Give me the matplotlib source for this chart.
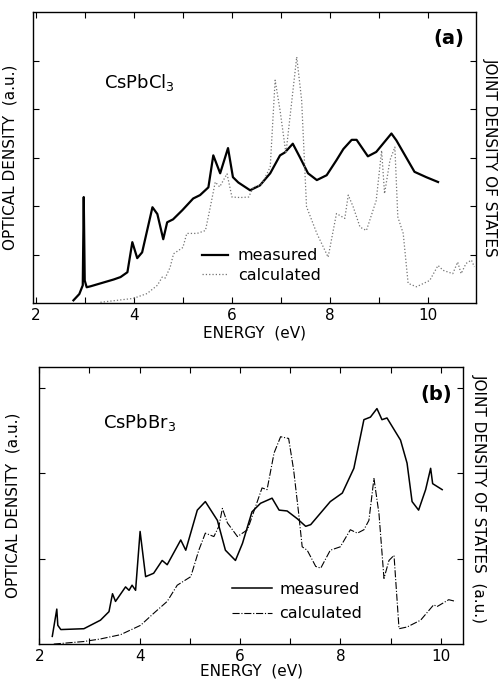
"""Optical density vs joint density of states for CsPbCl3 and CsPbBr3."""
import matplotlib.pyplot as plt
from matplotlib.ticker import MultipleLocator, FuncFormatter

plt.switch_backend("agg")

# panel (a): CsPbCl3
cl_meas_E = [2.77, 2.89, 2.96, 2.98, 3.0, 3.04, 3.12, 3.59, 3.73, 3.87, 3.97, 4.07,
             4.17, 4.38, 4.48, 4.6, 4.68, 4.8, 4.99, 5.21, 5.35, 5.52, 5.62, 5.76,
             5.92, 6.02, 6.13, 6.37, 6.57, 6.78, 6.98, 7.08, 7.24, 7.39, 7.55, 7.73,
             7.93, 8.13, 8.27, 8.44, 8.54, 8.77, 8.94, 9.25, 9.35, 9.72, 9.96, 10.2]
cl_meas_OD = [0.06, 0.19, 0.37, 2.19, 0.47, 0.33, 0.35, 0.49, 0.54, 0.64, 1.26, 0.93,
              1.05, 1.98, 1.84, 1.32, 1.67, 1.73, 1.92, 2.16, 2.23, 2.39, 3.05, 2.68,
              3.2, 2.6, 2.49, 2.33, 2.43, 2.68, 3.05, 3.11, 3.29, 3.0, 2.68, 2.54,
              2.64, 2.95, 3.18, 3.37, 3.37, 3.03, 3.12, 3.5, 3.36, 2.71, 2.6, 2.5]
cl_calc_E = [3.32, 3.99, 4.27, 4.48, 4.58, 4.64, 4.74, 4.81, 5.0, 5.08, 5.29, 5.46,
             5.56, 5.66, 5.75, 5.9, 6.0, 6.17, 6.34, 6.44, 6.57, 6.63, 6.78, 6.88,
             6.98, 7.1, 7.32, 7.42, 7.52, 7.73, 7.96, 8.13, 8.3, 8.37, 8.47, 8.61,
             8.74, 8.94, 9.05, 9.11, 9.22, 9.32, 9.38, 9.49, 9.59, 9.76, 10.03, 10.2,
             10.3, 10.5, 10.6, 10.67, 10.77, 10.88, 10.94]
cl_calc_JDOS = [0.02, 0.1, 0.2, 0.37, 0.54, 0.52, 0.74, 1.02, 1.15, 1.44, 1.44, 1.5,
                1.99, 2.5, 2.4, 2.67, 2.19, 2.18, 2.19, 2.4, 2.43, 2.5, 2.81, 4.6,
                3.98, 3.09, 5.08, 4.19, 1.99, 1.44, 0.95, 1.85, 1.75, 2.23, 1.99, 1.57,
                1.5, 2.12, 3.15, 2.26, 2.95, 3.22, 1.78, 1.44, 0.41, 0.34, 0.47, 0.78,
                0.68, 0.61, 0.85, 0.61, 0.82, 0.89, 0.75]

# panel (b): CsPbBr3
br_meas_E = [2.26, 2.35, 2.37, 2.43, 2.89, 3.22, 3.39, 3.46, 3.52, 3.72, 3.79, 3.85,
             3.92, 4.01, 4.12, 4.28, 4.45, 4.55, 4.82, 4.92, 5.15, 5.31, 5.55, 5.71,
             5.91, 6.05, 6.24, 6.41, 6.64, 6.78, 6.94, 7.14, 7.31, 7.41, 7.8, 8.04,
             8.27, 8.47, 8.6, 8.73, 8.83, 8.93, 9.2, 9.33, 9.43, 9.56, 9.7, 9.8,
             9.84, 10.03]
br_meas_OD = [0.09, 0.41, 0.22, 0.17, 0.18, 0.28, 0.38, 0.59, 0.5, 0.67, 0.63, 0.69,
              0.63, 1.32, 0.79, 0.83, 0.98, 0.93, 1.22, 1.1, 1.57, 1.67, 1.45, 1.1,
              0.98, 1.18, 1.55, 1.65, 1.71, 1.57, 1.56, 1.47, 1.38, 1.4, 1.67, 1.77,
              2.06, 2.63, 2.66, 2.76, 2.63, 2.65, 2.39, 2.12, 1.67, 1.57, 1.81, 2.06,
              1.88, 1.81]
br_calc_E = [2.29, 2.89, 3.22, 3.62, 4.02, 4.28, 4.55, 4.75, 5.02, 5.18, 5.31, 5.48,
             5.58, 5.65, 5.75, 5.95, 6.15, 6.31, 6.44, 6.54, 6.68, 6.81, 6.97, 7.07,
             7.17, 7.24, 7.34, 7.51, 7.61, 7.8, 8.0, 8.2, 8.34, 8.47, 8.57, 8.67,
             8.77, 8.87, 8.97, 9.07, 9.17, 9.33, 9.6, 9.86, 9.93, 10.16, 10.3]
br_calc_JDOS = [0.0, 0.03, 0.06, 0.11, 0.22, 0.36, 0.5, 0.69, 0.79, 1.1, 1.3, 1.26,
                1.38, 1.59, 1.42, 1.26, 1.34, 1.61, 1.83, 1.81, 2.24, 2.43, 2.41, 2.04,
                1.53, 1.14, 1.1, 0.91, 0.89, 1.1, 1.14, 1.34, 1.3, 1.34, 1.45, 1.94,
                1.53, 0.77, 0.98, 1.04, 0.18, 0.2, 0.28, 0.46, 0.44, 0.52, 0.5]

plt.rcParams.update({"font.size": 11})
fig = plt.figure(figsize=(5.03, 6.83), dpi=100)


def even_only(v, pos):
    return "%d" % v if int(round(v)) % 2 == 0 else ""


def style_axes(ax, yticks):
    ax.xaxis.set_major_locator(MultipleLocator(1))
    ax.xaxis.set_major_formatter(FuncFormatter(even_only))
    ax.set_yticks(yticks)
    ax.set_yticklabels([])
    ax.tick_params(direction="in", length=4, top=True, right=True, labelsize=11)
    for s in ax.spines.values():
        s.set_linewidth(1.0)


# (a)
ax1 = fig.add_axes([0.066, 0.556, 0.880, 0.426])
ax1.plot(cl_meas_E, cl_meas_OD, "k-", lw=1.6, label="measured")
ax1.plot(cl_calc_E, cl_calc_JDOS, ":", color="0.45", lw=0.9, label="calculated")
ax1.set_xlim(1.95, 10.97)
ax1.set_ylim(0, 6)
style_axes(ax1, [1, 2, 3, 4, 5])
ax1.text(0.16, 0.74, "CsPbCl$_3$", transform=ax1.transAxes, fontsize=13)
ax1.text(0.905, 0.89, "(a)", transform=ax1.transAxes, fontsize=14, fontweight="bold")
ax1.legend(loc="lower left", bbox_to_anchor=(0.35, 0.02), frameon=False,
           fontsize=11.5, handlelength=1.6, handletextpad=0.6, labelspacing=0.3)
ax1.set_xlabel("ENERGY  (eV)", labelpad=2)
ax1.set_ylabel("OPTICAL DENSITY  (a.u.)", labelpad=8)
fig.text(0.975, 0.77, "JOINT DENSITY OF STATES", rotation=-90,
         ha="center", va="center", fontsize=11)

# (b)
ax2 = fig.add_axes([0.078, 0.057, 0.843, 0.406])
ax2.plot(br_meas_E, br_meas_OD, "k-", lw=1.1, label="measured")
ax2.plot(br_calc_E, br_calc_JDOS, "-.", color="k", lw=0.8, label="calculated")
ax2.set_xlim(2.0, 10.45)
ax2.set_ylim(0, 3.25)
style_axes(ax2, [1, 2, 3])
ax2.text(0.15, 0.78, "CsPbBr$_3$", transform=ax2.transAxes, fontsize=13)
ax2.text(0.9, 0.88, "(b)", transform=ax2.transAxes, fontsize=14, fontweight="bold")
ax2.legend(loc="lower left", bbox_to_anchor=(0.42, 0.03), frameon=False,
           fontsize=11.5, handlelength=2.5, handletextpad=0.5, labelspacing=0.6)
ax2.set_xlabel("ENERGY  (eV)", labelpad=0)
ax2.set_ylabel("OPTICAL DENSITY  (a.u.)", labelpad=10)
fig.text(0.952, 0.27, "JOINT DENSITY OF STATES  (a.u.)", rotation=-90,
         ha="center", va="center", fontsize=11)

plt.savefig("out.png", dpi=100)
plt.close()
